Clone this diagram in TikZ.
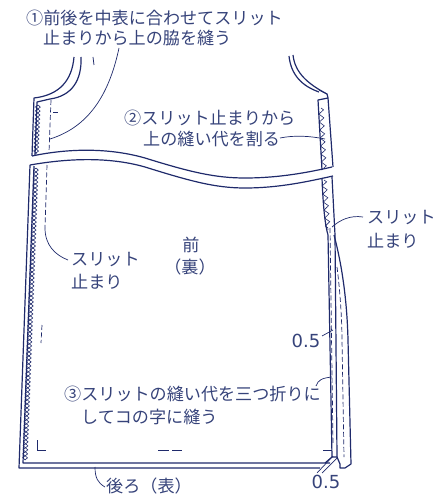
\documentclass[tikz,border=0pt]{standalone}
\usepackage{fontspec}
\setmainfont{Noto Sans CJK JP}
\newfontfamily\numfont{DejaVu Sans}
\usetikzlibrary{decorations.pathmorphing}
\definecolor{ink}{HTML}{1F2A6B}
\definecolor{labelink}{HTML}{36437A}
\tikzstyle{outline} = [draw=ink,line width=1.2pt,line join=round]
\tikzstyle{thinline} = [draw=ink,line width=0.8pt]
\tikzstyle{stitch} = [draw=ink,line width=0.7pt,dash pattern=on 5pt off 2.5pt]
\tikzstyle{leader} = [draw=ink,line width=0.7pt]
\tikzstyle{overlock} = [draw=ink,line width=0.6pt,decorate,decoration={zigzag,segment length=8pt,amplitude=2.4pt}]
\tikzstyle{overlockb} = [overlock,decoration={mirror}]
\tikzstyle{label} = [text=labelink,font=\fontsize{17.1}{18}\selectfont,inner sep=0pt,anchor=west]
\tikzstyle{width} = [label,anchor=center,font=\numfont\fontsize{18}{18}\selectfont]

\begin{document}
\begin{tikzpicture}[x=1pt,y=-1pt]
    \useasboundingbox (0,0) rectangle (435,497);
    % Labels first
    \foreach \pos/\name/\txt in {{(26,18)/noteAa/①前後を中表に合わせてスリット},{(43,38)/noteAb/止まりから上の脇を縫う},
        {(124,118)/noteBa/②スリット止まりから},{(143,139)/noteBb/上の縫い代を割る},
        {(71,260)/stopLa/スリット},{(71,282)/stopLb/止まり},
        {(367,218)/stopRa/スリット},{(367,241)/stopRb/止まり},
        {(64,394)/noteCa/③スリットの縫い代を三つ折りに},{(81,417)/noteCb/してコの字に縫う},
        {(106,486)/backlbl/後ろ（表）}}
        \node[label] (\name) at \pos {\txt};
    \node[label,anchor=center] (frontlbl) at (191,245) {前};
    \node[label,anchor=center] (frontsub) at (190,267) {（裏）};
    \node[width] (widthA) at (306,341) {0.5};
    \node[width] (widthB) at (326,482) {0.5};

    % Upper part of the front
    \draw[outline] (74,57) .. controls (72,80) and (60,95) .. (34,98) -- (32,156);
    \draw[outline] (81,57) .. controls (82,80) and (72,96) .. (50,99) -- (37,102) -- (35,155);
    \draw[stitch] (51,100) -- (49,152);
    \draw[thinline] (93,57) -- (94,65);
    \draw[thinline] (53,112) -- (58,112);
    \draw[overlock] (38,105) -- (36,154);
    \draw[overlockb] (38,105) -- (36,154);

    % Band
    \draw[outline] (32,156) .. controls (70,148) and (110,148) .. (145,158) .. controls (190,172) and (215,178) .. (245,178) .. controls (280,178) and (310,172) .. (332,167);
    \draw[outline] (30,165) .. controls (70,158) and (110,157) .. (145,167) .. controls (190,181) and (215,188) .. (245,188) .. controls (280,188) and (310,181) .. (333,176);

    % Upper right
    \draw[outline] (289,56) .. controls (291,75) and (302,86) .. (319,92);
    \draw[outline] (293,55) .. controls (295,73) and (308,84) .. (327,94) -- (328,98) -- (333,167);
    \draw[outline] (328,98) -- (318,100) -- (322,170);
    \draw[thinline] (319,90) -- (327,94);
    \draw[overlock] (321,108) -- (324,168);

    % Lower left
    \draw[outline] (30,165) -- (19,468) -- (320,468);
    \draw[outline] (34,166) -- (23,463) -- (330,463);
    \draw[overlock] (36,168) -- (25,460);
    \draw[overlockb] (36,168) -- (25,460);
    \draw[stitch] (47,165) -- (45,228);

    % Lower right
    \draw[outline] (322,178) .. controls (323,205) and (325,225) .. (328,235) -- (332,457);
    \draw[outline] (332,177) -- (335,235) -- (337,457);
    \draw[outline] (334,235) .. controls (342,265) and (347,300) .. (348,340) -- (351,464) -- (345,468) -- (340,468) -- (340,464) -- (337,457) -- (332,457) -- (325,463);
    \draw[overlock] (324,180) -- (328,230);
    \draw[stitch] (330,228) -- (333,445);
    \draw[stitch] (337,267) .. controls (340,290) and (342,320) .. (342,340) -- (344,457);

    % Marks
    \draw[stitch] (42,325) -- (41,343);
    \draw[thinline] (37,440) -- (37,450) -- (46,450);
    \draw[thinline] (158,450) -- (169,450) (172,450) -- (182,450);
    \draw[thinline] (323,450) -- (332,450);

    % Ends of the leaders
    \foreach \pos/\name in {{(119,48)/a0},{(50,139)/a1},{(280,138)/b0},{(325,139)/b1},{(45,228)/c0},{(68,260)/c1},
        {(363,217)/d0},{(332,227)/d1},{(322,336)/e0},{(333,330)/e1},{(316,386)/f0},{(332,377)/f1},
        {(95,467)/g0},{(105,487)/g1},{(317,473)/h0},{(333,456)/h1},{(322,473)/i0},{(337,458)/i1}}
        \path \pos coordinate (\name);
    \draw[leader] (a0) .. controls (108,100) and (85,128) .. (a1);
    \draw[leader] (b0) .. controls (295,135) and (310,136) .. (b1);
    \draw[leader] (c0) .. controls (45,245) and (55,255) .. (c1);
    \draw[leader] (d0) .. controls (350,215) and (340,220) .. (d1);
    \draw[leader] (e0) -- (e1);
    \draw[leader] (f0) .. controls (318,380) and (322,378) .. (f1);
    \draw[leader] (g0) .. controls (95,478) and (98,483) .. (g1);
    \foreach \source/ \dest in {h0/h1, i0/i1}
        \path[leader] (\source) -- (\dest);
\end{tikzpicture}
\end{document}
